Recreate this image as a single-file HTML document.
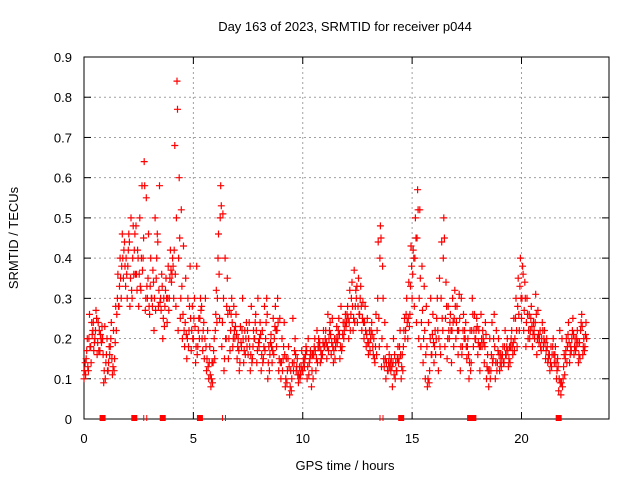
<!DOCTYPE html>
<html><head><meta charset="utf-8"><style>
body{margin:0;background:#fff}
svg{display:block;font-family:"Liberation Sans",sans-serif}
</style></head><body>
<svg id="chart" width="640" height="480">
<text x="345" y="31" font-size="13" text-anchor="middle">Day 163 of 2023, SRMTID for receiver p044</text>
<text x="0" y="0" font-size="13" text-anchor="middle" transform="translate(18,238) rotate(-90)">SRMTID / TECUs</text>
<text x="345" y="470" font-size="13" text-anchor="middle">GPS time / hours</text>
<g id="grid"></g>
<g id="axes"></g>
<g id="marks"></g>
</svg>
<script>
const xTicks=[0,5,10,15,20];
const yTicks=[0,0.1,0.2,0.3,0.4,0.5,0.6,0.7,0.8,0.9];
const yTickLabels=["0","0.1","0.2","0.3","0.4","0.5","0.6","0.7","0.8","0.9"];
const seriesA=[.10,.15,.12,.18,.22,.20,.16,.22,.19,.09,.14,.12,.18,.11,.15,.26,.28,.30,.35,.33,.38,.28,.30,.42,.36,.28,.32,.40,.27,.30,.26,.30,.22,.35,.28,.30,.20,.28,.24,.30,.34,.30,.28,.22,.25,.20,.18,.15,.22,.17,.20,.14,.18,.25,.20,.15,.12,.10,.08,.14,.22,.30,.25,.18,.12,.20,.15,.22,.18,.20,.15,.12,.18,.14,.20,.16,.12,.15,.20,.14,.18,.12,.15,.20,.10,.16,.14,.20,.18,.12,.10,.15,.08,.12,.06,.10,.14,.12,.09,.11,.12,.15,.10,.14,.08,.16,.12,.18,.14,.16,.18,.15,.20,.16,.14,.18,.20,.15,.18,.22,.24,.20,.26,.22,.28,.24,.26,.22,.20,.18,.16,.20,.18,.14,.22,.18,.13,.15,.10,.12,.14,.08,.16,.12,.15,.10,.18,.22,.20,.26,.30,.28,.24,.20,.18,.14,.10,.08,.12,.16,.14,.20,.12,.16,.22,.18,.15,.20,.14,.18,.20,.16,.12,.18,.22,.15,.10,.14,.18,.20,.16,.12,.18,.14,.10,.08,.12,.15,.10,.14,.12,.15,.14,.16,.13,.18,.16,.20,.18,.22,.25,.22,.18,.20,.22,.18,.20,.16,.19,.17,.18,.15,.14,.12,.16,.14,.10,.07,.06,.10,.15,.18,.14,.20,.16,.18,.14,.22,.16,.18];
const seriesB=[.14,.20,.26,.24,.17,.27,.24,.21,.20,.23,.20,.18,.24,.22,.28,.36,.40,.46,.44,.36,.46,.50,.48,.36,.42,.50,.58,.64,.55,.46,.40,.37,.50,.46,.58,.36,.30,.35,.38,.42,.40,.68,.84,.60,.52,.43,.35,.30,.38,.28,.30,.38,.25,.27,.22,.30,.22,.18,.14,.20,.32,.46,.58,.51,.40,.35,.27,.30,.28,.26,.20,.23,.30,.22,.18,.24,.28,.22,.26,.30,.24,.22,.28,.30,.18,.21,.25,.28,.30,.25,.20,.24,.15,.18,.12,.25,.20,.15,.13,.17,.15,.18,.20,.17,.16,.20,.22,.18,.15,.22,.22,.26,.24,.25,.20,.23,.25,.28,.24,.26,.28,.32,.34,.37,.30,.35,.33,.29,.28,.25,.22,.24,.20,.26,.44,.48,.38,.24,.18,.16,.15,.20,.14,.18,.22,.16,.25,.30,.34,.43,.42,.50,.57,.52,.38,.33,.28,.24,.30,.26,.22,.30,.35,.44,.50,.34,.28,.26,.30,.32,.28,.31,.30,.26,.24,.20,.22,.30,.26,.25,.22,.26,.20,.24,.16,.20,.24,.26,.22,.20,.16,.18,.22,.20,.18,.22,.25,.30,.35,.40,.38,.34,.30,.26,.28,.24,.31,.27,.22,.24,.22,.20,.16,.18,.20,.18,.15,.22,.20,.16,.20,.24,.18,.25,.20,.22,.19,.26,.20,.24];
const seriesC=[.12,.17,.20,.14,.24,.22,.19,.17,.23,.12,.16,.14,.20,.13,.19,.30,.33,.38,.42,.40,.42,.35,.40,.46,.32,.36,.40,.45,.30,.35,.33,.28,.30,.40,.32,.27,.25,.32,.30,.35,.36,.42,.50,.40,.30,.26,.24,.20,.28,.22,.25,.18,.22,.30,.17,.20,.15,.14,.10,.17,.26,.40,.50,.24,.15,.28,.20,.26,.20,.23,.18,.14,.22,.17,.24,.20,.16,.18,.24,.17,.20,.16,.18,.24,.14,.19,.17,.23,.22,.15,.14,.18,.10,.15,.08,.14,.17,.13,.11,.13,.14,.16,.13,.15,.12,.18,.15,.20,.17,.19,.20,.18,.22,.19,.17,.20,.22,.18,.21,.24,.26,.24,.30,.25,.32,.28,.30,.25,.24,.21,.19,.22,.16,.18,.30,.40,.20,.13,.14,.14,.12,.14,.10,.15,.18,.13,.22,.26,.25,.33,.36,.40,.45,.30,.24,.20,.16,.10,.20,.21,.18,.25,.20,.30,.40,.25,.20,.24,.22,.25,.24,.22,.18,.22,.20,.18,.14,.22,.22,.22,.19,.18,.22,.18,.13,.12,.16,.20,.14,.17,.14,.16,.18,.18,.15,.20,.19,.25,.28,.33,.30,.27,.24,.22,.25,.21,.24,.20,.20,.20,.20,.17,.15,.14,.18,.16,.12,.10,.09,.13,.17,.21,.16,.22,.18,.20,.16,.24,.18,.21];
const seriesD=[.11,.13,.18,.21,.19,.25,.17,.20,.16,.10,.12,.16,.15,.12,.22,.28,.35,.40,.38,.30,.44,.32,.36,.48,.40,.33,.37,.58,.33,.28,.30,.34,.27,.44,.29,.33,.23,.30,.27,.37,.38,.36,.77,.45,.33,.22,.21,.18,.25,.20,.23,.16,.20,.28,.24,.18,.13,.11,.09,.15,.24,.36,.53,.30,.20,.26,.17,.24,.22,.21,.17,.19,.20,.16,.22,.18,.14,.20,.22,.19,.21,.14,.17,.26,.12,.18,.16,.22,.24,.14,.12,.16,.09,.13,.07,.12,.16,.11,.10,.12,.13,.17,.11,.16,.10,.17,.14,.19,.16,.18,.19,.17,.21,.18,.15,.19,.21,.17,.20,.23,.25,.22,.28,.24,.33,.26,.28,.24,.22,.19,.17,.21,.15,.16,.25,.45,.30,.15,.12,.13,.13,.11,.12,.14,.16,.12,.20,.24,.23,.38,.40,.45,.52,.35,.27,.22,.18,.09,.16,.19,.16,.22,.18,.25,.45,.28,.22,.22,.24,.28,.22,.25,.16,.20,.18,.16,.12,.26,.20,.23,.18,.20,.19,.21,.12,.10,.14,.18,.12,.16,.13,.14,.16,.17,.14,.18,.17,.22,.26,.30,.36,.30,.26,.20,.23,.22,.26,.21,.18,.22,.19,.18,.16,.13,.16,.14,.13,.09,.08,.11,.14,.19,.17,.21,.17,.19,.15,.23,.17,.20];
const seriesStart=[0.0,0.05,0.025,0.075];
const seriesStep=0.1;
const gapMarkers=[0.85,2.3,3.6,5.3,14.5,17.65,17.8,21.7];
const gapTicks=[2.8,6.4,13.6];

const X0=84,X1=609,Y0=419,Y1=57,XMAX=24,YMAX=0.9;
const xs=t=>X0+(X1-X0)*t/XMAX;
const ys=v=>Y0-(Y0-Y1)*v/YMAX;
const NS="http://www.w3.org/2000/svg";
function mk(tag,attrs,parent){const e=document.createElementNS(NS,tag);for(const k in attrs)e.setAttribute(k,attrs[k]);parent.appendChild(e);return e;}
const grid=document.getElementById('grid'),axes=document.getElementById('axes'),marks=document.getElementById('marks');
yTicks.forEach((v,i)=>{
  const y=ys(v);
  if(i>0&&i<yTicks.length-1){const g=mk('line',{x1:X0,x2:X1,y1:y,y2:y,stroke:'#a0a0a0','stroke-dasharray':'2,3'},grid);
  
  }
  const t=mk('line',{x1:X0,x2:X0+7,y1:y,y2:y,stroke:'#000'},axes);
  
  
  const t2=mk('line',{x1:X1-7,x2:X1,y1:y,y2:y,stroke:'#000'},axes);
  
  
  const l=mk('text',{x:X0-12,y:y+5,'font-size':13,'text-anchor':'end'},axes);
  l.textContent=yTickLabels[i];
  
  
});
xTicks.forEach(v=>{
  const x=xs(v);
  if(v>0){const g=mk('line',{x1:x,x2:x,y1:Y0,y2:Y1,stroke:'#a0a0a0','stroke-dasharray':'2,3'},grid);
  
  }
  const t=mk('line',{x1:x,x2:x,y1:Y0,y2:Y0-7,stroke:'#000'},axes);
  
  
  const t2=mk('line',{x1:x,x2:x,y1:Y1,y2:Y1+7,stroke:'#000'},axes);
  
  
  const l=mk('text',{x:x,y:Y0+24,'font-size':13,'text-anchor':'middle'},axes);
  l.textContent=String(v);
  
  
});
const frame=mk('rect',{x:X0,y:Y1,width:X1-X0,height:Y0-Y1,fill:'none',stroke:'#000'},axes);


[seriesA,seriesB,seriesC,seriesD].forEach((arr,si)=>{
  let d='';
  arr.forEach((v,i)=>{const x=xs(seriesStart[si]+i*seriesStep),y=ys(v);
    d+=`M${(x-3.5).toFixed(1)} ${y.toFixed(1)}h7M${x.toFixed(1)} ${(y-3.5).toFixed(1)}v7`;});
  const p=mk('path',{d:d,stroke:'#ff0000','stroke-width':1.2,fill:'none'},marks);
  
  
});
gapMarkers.forEach(t=>{
  const r=mk('rect',{x:xs(t)-3,y:Y0-4,width:6,height:6,fill:'#ff0000'},marks);
  
  
});
gapTicks.forEach(t=>{
  const p=mk('path',{d:`M${xs(t)-1.5} ${Y0-4}v6M${xs(t)+1.5} ${Y0-4}v6`,stroke:'#ff0000'},marks);
  
  
});
</script>
</body></html>
